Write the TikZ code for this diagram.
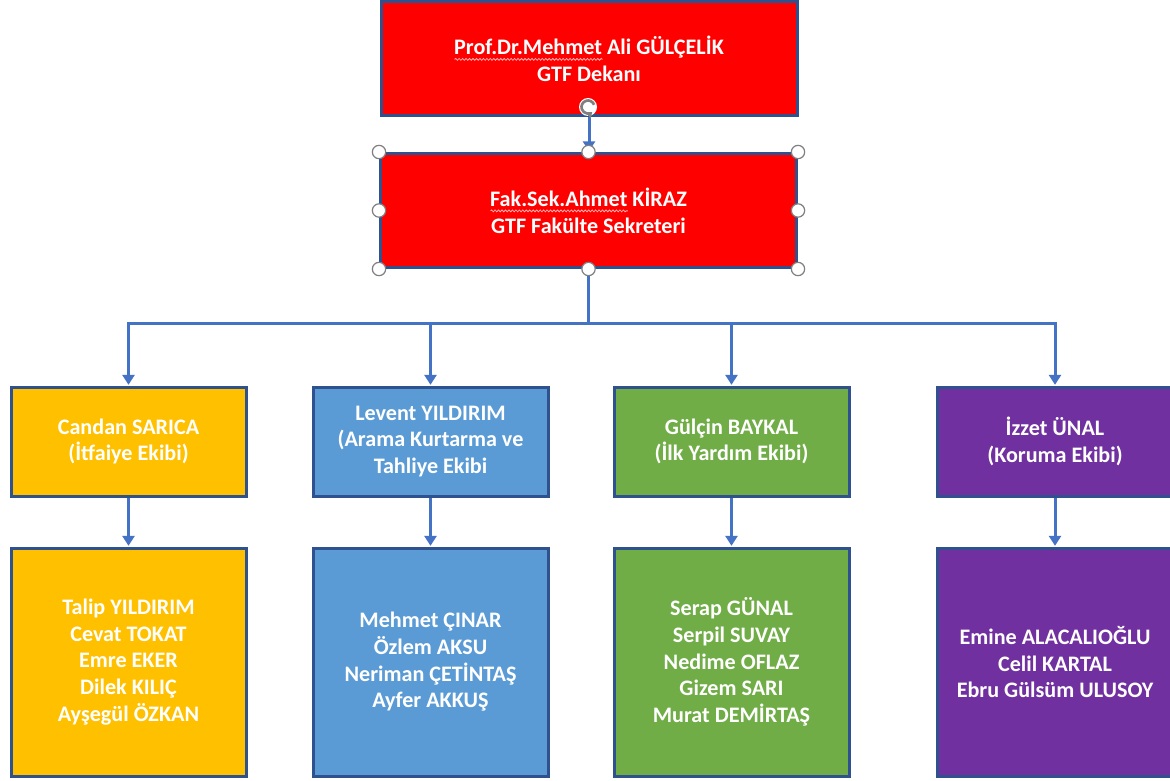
\documentclass[tikz,border=0pt]{standalone}
\usepackage{fontspec}
\setmainfont{Carlito}
\usetikzlibrary{arrows.meta,decorations.pathmorphing,calc}
\definecolor{pptred}{HTML}{FF0000}
\definecolor{bord}{HTML}{2F528F}
\definecolor{lineblue}{HTML}{4472C4}
\definecolor{gold}{HTML}{FFC000}
\definecolor{sky}{HTML}{5B9BD5}
\definecolor{leaf}{HTML}{70AD47}
\definecolor{plum}{HTML}{7030A0}
\definecolor{handlegray}{HTML}{7F7F7F}
\definecolor{squig}{HTML}{FFB0B0}
\newsavebox\sqbox
\newlength\sqlen
\newcommand\sq[1]{\sbox\sqbox{#1}\setlength\sqlen{\wd\sqbox}\rlap{\tikz[baseline=0pt,x=1pt,y=1pt]\draw[squig,line width=0.6pt,decorate,decoration={snake,amplitude=0.7pt,segment length=2.6pt}] (0pt,-3.4pt) -- (\sqlen,-3.4pt);}\usebox\sqbox}
\tikzset{
  box/.style={draw=bord,line width=2.25pt,inner sep=0pt,align=center,text=white,
    font=\fontsize{16.6pt}{20pt}\selectfont\bfseries},
  topbox/.style={box,fill=pptred,minimum width=312pt,minimum height=85.5pt},
  teambox/.style={box,minimum width=176.25pt,minimum height=81.75pt},
  memberbox/.style={box,minimum width=176.25pt,minimum height=171pt},
  link/.style={draw=lineblue,line width=2.25pt},
  conn/.style={link,-{Triangle[width=9pt,length=7.5pt]},shorten >=0.5pt},
  handle/.style={circle,draw=handlegray,fill=white,line width=0.9pt,inner sep=0pt,minimum size=10pt}
}
\begin{document}
\begin{tikzpicture}[x=0.75pt,y=-0.75pt]
\useasboundingbox (0,0) rectangle (1170,781);
\clip (0,0) rectangle (1170,781);
\fill[white] (0,0) rectangle (1170,781);

\node[topbox] (dekan) at (589,59) {\sq{Prof.Dr.Mehmet} Ali GÜLÇELİK\\GTF Dekanı};
\node[topbox] (sek) at (588.5,210.5) {\sq{Fak.Sek.Ahmet} KİRAZ\\GTF Fakülte Sekreteri};

\node[teambox,fill=gold] (e1) at (128.5,441.5) {Candan SARICA\\(İtfaiye Ekibi)};
\node[teambox,fill=sky]  (e2) at (430.5,441.5) {Levent YILDIRIM\\(Arama Kurtarma ve\\Tahliye Ekibi};
\node[teambox,fill=leaf] (e3) at (731.5,441.5) {Gülçin BAYKAL\\(İlk Yardım Ekibi)};
\node[teambox,fill=plum] (e4) at (1055,441.5) {İzzet ÜNAL\\(Koruma Ekibi)};

\node[memberbox,fill=gold] (m1) at (128.5,662) {Talip YILDIRIM\\Cevat TOKAT\\Emre EKER\\Dilek KILIÇ\\Ayşegül ÖZKAN};
\node[memberbox,fill=sky]  (m2) at (430.5,662) {Mehmet ÇINAR\\Özlem AKSU\\Neriman ÇETİNTAŞ\\Ayfer AKKUŞ};
\node[memberbox,fill=leaf] (m3) at (731.5,662) {Serap GÜNAL\\Serpil SUVAY\\Nedime OFLAZ\\Gizem SARI\\Murat DEMİRTAŞ};
\node[memberbox,fill=plum] (m4) at (1055,662) {Emine ALACALIOĞLU\\Celil KARTAL\\Ebru Gülsüm ULUSOY};

\draw[conn] (dekan.south) -- (dekan.south |- sek.north);
\coordinate (bus) at (588.5,323);
\draw[link] (sek.south) -- (bus);
\foreach \t in {e1,e2,e3,e4} {
  \draw[conn] (bus) -| (\t.north);
}
\foreach \i in {1,2,3,4} {
  \draw[conn] (e\i.south) -- (m\i.north);
}

% selection handles of the selected shape
\foreach \a in {north west,north,north east,west,east,south west,south,south east} {
  \node[handle] at (sek.\a) {};
}
% rotation handle
\coordinate (rot) at (588,107);
\fill[white] (rot) circle (9);
\draw[handlegray,line width=2pt,-{Triangle[width=6pt,length=4pt]}] ($(rot)+(-20:6.5)$) arc[start angle=-20,end angle=-310,radius=6.5];
\end{tikzpicture}
\end{document}
